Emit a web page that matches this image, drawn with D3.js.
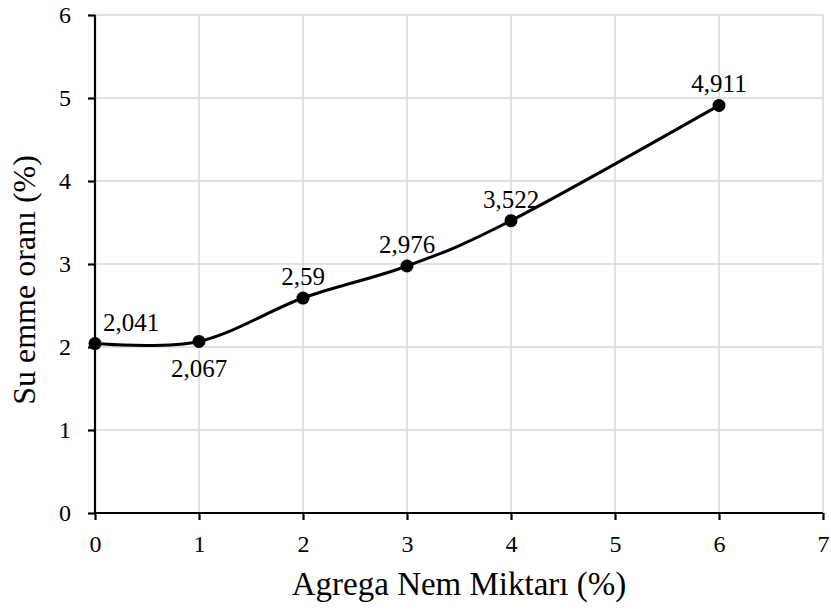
<!DOCTYPE html>
<html><head><meta charset="utf-8">
<script src="https://cdn.jsdelivr.net/npm/d3@7"></script>
</head><body style="margin:0;background:#fff">
<svg id="c" width="831" height="612"></svg>
<script>
const xValues = [0, 1, 2, 3, 4, 6];
const yValues = [2.041, 2.067, 2.59, 2.976, 3.522, 4.911];
const pointLabels = ["2,041", "2,067", "2,59", "2,976", "3,522", "4,911"];
const labelPlacement = ["aboveRight", "below", "above", "above", "above", "above"];
const xTicks = [0, 1, 2, 3, 4, 5, 6, 7];
const yTicks = [0, 1, 2, 3, 4, 5, 6];
const xTitle = "Agrega Nem Miktarı (%)";
const yTitle = "Su emme oranı (%)";

const FONT = "Liberation Serif";
const svg = d3.select("#c");
const x = d3.scaleLinear().domain([0, 7]).range([95, 823]);
const y = d3.scaleLinear().domain([0, 6]).range([513, 15]);

// gridlines
svg.append("g").selectAll("line").data(xTicks.slice(1)).join("line")
  .attr("x1", d => x(d)).attr("x2", d => x(d)).attr("y1", y(0)).attr("y2", y(6))
  .attr("stroke", "#d9d9d9").attr("stroke-width", 1.5);
svg.append("g").selectAll("line").data(yTicks.slice(1)).join("line")
  .attr("x1", x(0)).attr("x2", x(7)).attr("y1", d => y(d)).attr("y2", d => y(d))
  .attr("stroke", "#d9d9d9").attr("stroke-width", 1.5);

// axes
const xAxis = svg.append("g").attr("transform", `translate(0,${y(0)})`)
  .call(d3.axisBottom(x).tickValues(xTicks).tickSize(7).tickPadding(15).tickFormat(d3.format("d")));
const yAxis = svg.append("g").attr("transform", `translate(${x(0)},0)`)
  .call(d3.axisLeft(y).tickValues(yTicks).tickSize(7).tickPadding(17).tickFormat(d3.format("d")));
[xAxis, yAxis].forEach(a => {
  a.select(".domain").attr("stroke", "#000").attr("stroke-width", 2.2);
  a.selectAll(".tick line").attr("stroke", "#000").attr("stroke-width", 2.2);
  a.selectAll(".tick text").attr("fill", "#000").style("font-family", FONT).style("font-size", "24px");
});
xAxis.select(".domain").attr("d", `M${x(0)},0H${x(7)}`);
yAxis.select(".domain").attr("d", `M0,${y(0)}V${y(6)}`);

// line
const pts = xValues.map((v, i) => [v, yValues[i]]);
svg.append("path").datum(pts)
  .attr("d", d3.line().x(d => x(d[0])).y(d => y(d[1])).curve(d3.curveCardinal.tension(0)))
  .attr("fill", "none").attr("stroke", "#000").attr("stroke-width", 3);

svg.append("g").selectAll("circle").data(pts).join("circle")
  .attr("cx", d => x(d[0])).attr("cy", d => y(d[1])).attr("r", 6.5).attr("fill", "#000");

// labels
svg.append("g").selectAll("text").data(pts).join("text")
  .attr("x", (d, i) => labelPlacement[i] === "aboveRight" ? x(d[0]) + 8 : x(d[0]))
  .attr("y", (d, i) => labelPlacement[i] === "below" ? y(d[1]) + 36 : y(d[1]) - 13)
  .attr("text-anchor", (d, i) => labelPlacement[i] === "aboveRight" ? "start" : "middle")
  .style("font-family", FONT).style("font-size", "25px")
  .text((d, i) => pointLabels[i]);

svg.append("text").attr("x", x(3.5)).attr("y", 595).attr("text-anchor", "middle")
  .style("font-family", FONT).style("font-size", "33px").text(xTitle);
svg.append("text").attr("transform", `translate(35,280) rotate(-90)`).attr("text-anchor", "middle")
  .style("font-family", FONT).style("font-size", "32px").text(yTitle);
</script>
</body></html>
